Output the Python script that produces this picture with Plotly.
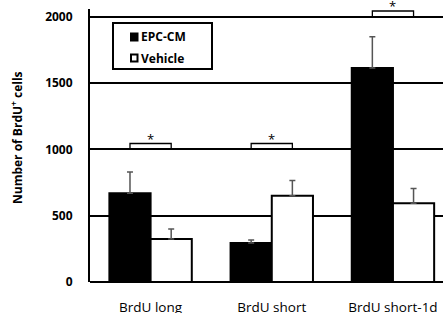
import plotly.graph_objects as go

categories = ["BrdU long", "BrdU short", "BrdU short-1d"]
series_names = ["EPC-CM", "Vehicle"]
epc_values = [670, 295, 1615]
epc_errors = [160, 22, 235]
veh_values = [325, 650, 595]
veh_errors = [75, 115, 110]
sig_levels = [1000, 1000, 2000]   # baseline of each significance bracket
y_ticks = [0, 500, 1000, 1500, 2000]

FONT = "Open Sans"
W, H = 443, 313
L, R, T, B = 90, 0, 9, 31
PW, PH = W - L - R, H - T - B

fig = go.Figure()
fills = ["black", "white"]
for name, vals, errs, fill in zip(series_names, [epc_values, veh_values],
                                  [epc_errors, veh_errors], fills):
    fig.add_trace(go.Bar(
        name=name, x=list(range(len(categories))), y=vals, showlegend=False,
        marker=dict(color=fill, line=dict(color="black", width=2)),
        error_y=dict(type="data", array=errs, arrayminus=[0] * len(errs), symmetric=False,
                     color="#555555", thickness=1.5, width=3),
    ))

half = 0.17
for i, lvl in enumerate(sig_levels):
    fig.add_shape(type="path",
                  path=f"M {i-half},{lvl} L {i-half},{lvl+45} L {i+half},{lvl+45} L {i+half},{lvl}",
                  xref="x", yref="y", line=dict(color="black", width=1.3))
    fig.add_annotation(x=i, y=lvl + 45, text="*", showarrow=False, yanchor="bottom",
                       yshift=-6, font=dict(family=FONT, size=13, color="black"))

# manual legend (pixel positions converted to paper coordinates)
def px(x):
    return (x - L) / PW

def py(y):
    return (H - B - y) / PH

fig.add_shape(type="rect", xref="paper", yref="paper",
              x0=px(113), x1=px(212), y0=py(69), y1=py(23),
              line=dict(color="black", width=2), fillcolor="white", layer="above")
for k, (name, fill) in enumerate(zip(series_names, fills)):
    cy = 37 + 21 * k
    fig.add_shape(type="rect", xref="paper", yref="paper",
                  x0=px(131), x1=px(137.5), y0=py(cy + 3.5), y1=py(cy - 3.5),
                  line=dict(color="black", width=2), fillcolor=fill, layer="above")
    fig.add_annotation(xref="paper", yref="paper", x=px(139), y=py(cy), text=name,
                       showarrow=False, xanchor="left", yanchor="middle",
                       font=dict(family=FONT, size=12, color="black", weight="bold"))

# y-axis title
fig.add_annotation(xref="paper", yref="paper", x=px(17), y=py(138),
                   text="Number of BrdU<sup>+</sup> cells", textangle=-90, showarrow=False,
                   xanchor="center", yanchor="middle",
                   font=dict(family=FONT, size=12, color="black", weight="bold"))

fig.update_layout(
    width=W, height=H,
    margin=dict(l=L, r=R, t=T, b=B, autoexpand=False),
    plot_bgcolor="white", paper_bgcolor="white",
    barmode="group", bargap=0.32, bargroupgap=0,
    font=dict(family=FONT, color="black"),
    showlegend=False, hovermode=False,
    xaxis=dict(tickmode="array", tickvals=list(range(len(categories))), ticktext=categories,
               range=[-0.5, 2.413], showgrid=False, zeroline=False, showline=False,
               ticks="", ticklabelstandoff=15, automargin=False,
               tickfont=dict(family=FONT, size=13.5, color="black")),
    yaxis=dict(range=[0, 2060], tickvals=y_ticks, showgrid=True, gridcolor="black",
               gridwidth=2, zeroline=True, zerolinecolor="black", zerolinewidth=2,
               showline=True, linecolor="black", linewidth=2, ticks="",
               ticklabelstandoff=13, automargin=False,
               tickfont=dict(family=FONT, size=12, color="black", weight="bold")),
)
fig.write_html("out.html", config={"displayModeBar": False, "staticPlot": True},
               post_script="document.body.style.margin='0';")
